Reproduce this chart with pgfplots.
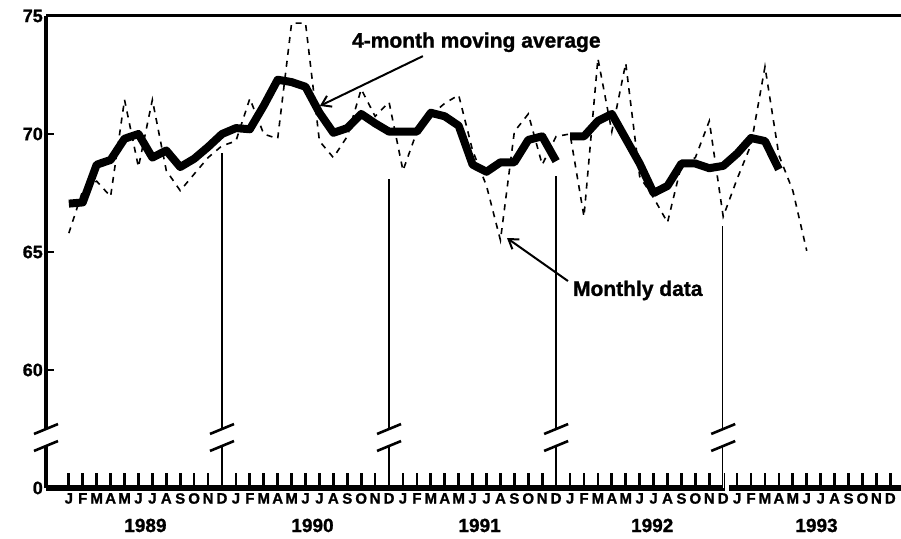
\documentclass[border=0pt]{standalone}
\usepackage{fontspec}
\setmainfont{Liberation Sans}
\newfontfamily\heavy{Liberation Sans Bold}[FakeBold=1.2]
\usepackage{pgfplots}
\usepackage{pgfplotstable}
\pgfplotsset{compat=1.18}
\usetikzlibrary{arrows.meta}

\pgfplotstableread{
m v
1 65.8
2 67.6
3 68.0
4 67.35
5 71.45
6 68.6
7 71.45
8 68.45
9 67.6
10 68.3
11 69.0
12 69.5
13 69.7
14 71.5
15 70.0
16 69.8
17 74.7
18 74.7
19 69.7
20 69.0
21 69.9
22 71.9
23 70.75
24 71.35
25 68.45
26 70.1
27 70.8
28 71.3
29 71.65
30 69.3
31 67.8
32 65.5
33 70.1
34 70.85
35 68.7
36 69.9
37 70.0
38 66.5
39 73.2
40 70.1
41 73.0
42 68.2
43 67.3
44 66.25
45 68.7
46 69.0
47 70.55
48 66.5
49 68.1
50 69.55
51 72.85
52 69.1
53 67.6
54 65.05
}\monthly

\pgfplotstableread{
m v
1 67.05
2 67.1
3 68.7
4 68.9
5 69.8
6 70.0
7 69.0
8 69.3
9 68.6
10 68.95
11 69.45
12 70.0
13 70.25
14 70.2
15 71.2
16 72.3
17 72.2
18 72.0
19 70.9
20 70.05
21 70.25
22 70.85
23 70.45
24 70.1
25 70.1
26 70.1
27 70.9
28 70.75
29 70.35
30 68.7
31 68.4
32 68.8
33 68.8
34 69.75
35 69.9
36 68.85
36.5 nan
37 69.9
38 69.9
39 70.55
40 70.85
41 69.8
42 68.75
43 67.5
44 67.8
45 68.75
46 68.75
47 68.55
48 68.65
49 69.17
50 69.83
51 69.7
52 68.5
}\movavg

\begin{document}
\begin{tikzpicture}
\path[use as bounding box] (-46pt,-50pt) rectangle (855pt,488pt);
\begin{axis}[
  at={(0pt,0pt)}, anchor=south west,
  scale only axis, width=855pt, height=472pt,
  xmin=-0.64, xmax=60.77, ymin=55, ymax=75,
  clip=false,
  axis x line*=bottom, axis y line*=left,
  x axis line style={draw=none}, y axis line style={draw=none},
  xtick={1,...,60},
  xticklabels={J,F,M,A,M,J,J,A,S,O,N,D,J,F,M,A,M,J,J,A,S,O,N,D,J,F,M,A,M,J,J,A,S,O,N,D,J,F,M,A,M,J,J,A,S,O,N,D,J,F,M,A,M,J,J,A,S,O,N,D},
  tick align=inside, major tick length=15pt,
  xtick style={line width=2.7pt, black},
  ytick={55,60,65,70,75},
  yticklabels={0\hspace{13pt},60,65,70,75},
  ytick style={draw=none},
  xticklabel style={font=\heavy\fontsize{15}{15}\selectfont, inner sep=0pt, anchor=north, yshift=-5pt},
  yticklabel style={font=\heavy\fontsize{18}{18}\selectfont, inner sep=0pt, xshift=-3pt},
  unbounded coords=jump,
]
% frame and axis lines
\draw[line width=3pt] (axis cs:-0.64,75) -- (axis cs:60.77,75);
\draw[line width=3.5pt] (axis cs:-0.64,57.5) -- (axis cs:-0.64,75);
\draw[line width=3.5pt] (axis cs:-0.64,55) -- (axis cs:-0.64,56.78);
\draw[line width=6pt] (axis cs:-0.64,55) -- (axis cs:48.1,55);
\draw[line width=6pt] (axis cs:48.4,55) -- (axis cs:60.77,55);
% y tick marks (inside)
\draw[line width=2pt] (axis cs:-0.64,60) -- ([xshift=8pt]axis cs:-0.64,60);
\draw[line width=2pt] (axis cs:-0.64,65) -- ([xshift=8pt]axis cs:-0.64,65);
\draw[line width=2pt] (axis cs:-0.64,70) -- ([xshift=8pt]axis cs:-0.64,70);
% year separator lines
\draw[line width=2pt] (axis cs:12,55) -- (axis cs:12,56.78);
\draw[line width=2pt] (axis cs:12,57.5) -- (axis cs:12,69.2);
\draw[line width=2pt] (axis cs:24,55) -- (axis cs:24,56.78);
\draw[line width=2pt] (axis cs:24,57.5) -- (axis cs:24,68.1);
\draw[line width=2pt] (axis cs:36,55) -- (axis cs:36,56.78);
\draw[line width=2pt] (axis cs:36,57.5) -- (axis cs:36,68.2);
\draw[line width=0.8pt, double=white, double distance=0.8pt] (axis cs:48,55) -- (axis cs:48,56.78);
\draw[line width=0.8pt, double=white, double distance=0.8pt] (axis cs:48,57.5) -- (axis cs:48,66.1);
% break marks
\pgfplotsinvokeforeach{-0.64,12,24,36,48}{
  \draw[line width=2.6pt] ([xshift=-12pt]axis cs:#1,57.29) -- ([xshift=12pt]axis cs:#1,57.71);
  \draw[line width=2.6pt] ([xshift=-12pt]axis cs:#1,56.57) -- ([xshift=12pt]axis cs:#1,56.99);
}
% data
\addplot[black, line width=1.6pt, dash pattern=on 6pt off 6pt] table[x=m,y=v]{\monthly};
\addplot[black, line width=8pt, line join=round] table[x=m,y=v]{\movavg};
% annotations
\node[anchor=base west, inner sep=0pt, font=\heavy\fontsize{21}{21}\selectfont] at (axis cs:21.33,73.66) {4-month moving average};
\draw[line width=2pt, -{Straight Barb[length=9pt,width=12pt]}] (axis cs:26.43,73.3) -- (axis cs:19.03,71.19);
\node[anchor=base west, inner sep=0pt, font=\heavy\fontsize{21}{21}\selectfont] at (axis cs:37.2,63.14) {Monthly data};
\draw[line width=2pt, -{Straight Barb[length=9pt,width=12pt]}] (axis cs:36.85,63.77) -- (axis cs:32.47,65.59);
% year labels
\node[anchor=base, inner sep=0pt, font=\heavy\fontsize{19}{19}\selectfont] at ([yshift=-44pt]axis cs:6.5,55) {1989};
\node[anchor=base, inner sep=0pt, font=\heavy\fontsize{19}{19}\selectfont] at ([yshift=-44pt]axis cs:18.5,55) {1990};
\node[anchor=base, inner sep=0pt, font=\heavy\fontsize{19}{19}\selectfont] at ([yshift=-44pt]axis cs:30.5,55) {1991};
\node[anchor=base, inner sep=0pt, font=\heavy\fontsize{19}{19}\selectfont] at ([yshift=-44pt]axis cs:42.9,55) {1992};
\node[anchor=base, inner sep=0pt, font=\heavy\fontsize{19}{19}\selectfont] at ([yshift=-44pt]axis cs:54.7,55) {1993};
\end{axis}
\end{tikzpicture}
\end{document}
